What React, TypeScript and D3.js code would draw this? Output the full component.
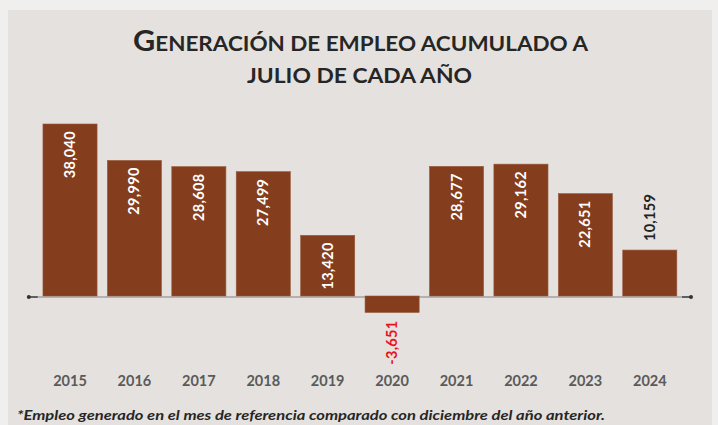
import React from 'react'
import * as d3 from 'd3';

const width = 718;
const height = 425;

const years = ['2015', '2016', '2017', '2018', '2019', '2020', '2021', '2022', '2023', '2024'];
const values = [38040, 29990, 28608, 27499, 13420, -3651, 28677, 29162, 22651, 10159];

const titleLine1First = 'G';
const titleLine1Rest = 'ENERACIÓN DE EMPLEO ACUMULADO A';
const titleLine2 = 'JULIO DE CADA AÑO';
const footnote = '*Empleo generado en el mes de referencia comparado con diciembre del año anterior.';

const barColor = '#843d1d';
const font = 'Lato, "Open Sans", sans-serif';

function App() {
  const x = d3.scaleBand<string>()
    .domain(years)
    .range([37.8, 682])
    .paddingInner(0.16)
    .paddingOuter(0.08);

  const y = d3.scaleLinear()
    .domain([0, 38040])
    .range([296, 124]);

  // guion normal en vez del signo menos unicode
  const fmt = (v: number) => d3.format(',')(v).replace('\u2212', '-');
  const y0 = y(0);
  const axisLeft = x.range()[0];
  const axisRight = x.range()[1];

  return (
    <div style={{ position: 'absolute', left: 0, top: 0 }}>
      <svg width={width} height={height} style={{ display: 'block' }}>
        <rect x={0} y={0} width={width} height={height} fill="#f0efed" />
        <rect x={8} y={10} width={704} height={height - 10} fill="#e4e1de" />

        {/* título */}
        <text x={360.5} y={51} textAnchor="middle" fontFamily={font} fontWeight={700}
          fill="#262626" textLength={455} lengthAdjust="spacingAndGlyphs">
          <tspan fontSize={28}>{titleLine1First}</tspan>
          <tspan fontSize={20.5}>{titleLine1Rest}</tspan>
        </text>
        <text x={359.5} y={83} textAnchor="middle" fontFamily={font} fontWeight={700}
          fontSize={20} fill="#262626" textLength={225} lengthAdjust="spacingAndGlyphs">
          {titleLine2}
        </text>

        {/* eje */}
        <line x1={axisLeft} x2={axisRight} y1={y0 + 1} y2={y0 + 1} stroke="#b4b1ae" strokeWidth={2} />
        <line x1={axisLeft - 10} x2={axisLeft} y1={y0 + 1} y2={y0 + 1} stroke="#333" strokeWidth={1.5} />
        <line x1={axisRight} x2={axisRight + 10} y1={y0 + 1} y2={y0 + 1} stroke="#333" strokeWidth={1.5} />
        <circle cx={axisLeft - 9} cy={y0 + 1} r={2} fill="#333" />
        <circle cx={axisRight + 9} cy={y0 + 1} r={2} fill="#333" />

        {/* barras */}
        {years.map((yr, i) => {
          const v = values[i];
          const bx = x(yr) as number;
          const top = y(Math.max(v, 0));
          const bottom = y(Math.min(v, 0));
          return (
            <rect key={yr} x={bx} y={top} width={x.bandwidth()} height={bottom - top}
              fill={barColor} stroke="#9a5a3e" strokeWidth={0.6} />
          );
        })}

        {/* etiquetas de valor */}
        {years.map((yr, i) => {
          const v = values[i];
          const cx = (x(yr) as number) + x.bandwidth() / 2 + 5;
          let ly: number;
          let anchor: 'start' | 'end';
          let color: string;
          if (v < 0) {
            ly = y(v) + 8;
            anchor = 'end';
            color = '#e8141c';
          } else if (v >= 12000) {
            ly = y(v) + 7;
            anchor = 'end';
            color = '#ffffff';
          } else {
            ly = y(v) - 9;
            anchor = 'start';
            color = '#222';
          }
          return (
            <text key={yr} transform={`translate(${cx},${ly}) rotate(-90)`} textAnchor={anchor}
              fontFamily={font} fontWeight={700} fontSize={14.5} fill={color} letterSpacing={0.3}>
              {fmt(v)}
            </text>
          );
        })}

        {/* años */}
        {years.map((yr) => (
          <text key={yr} x={(x(yr) as number) + x.bandwidth() / 2} y={386} textAnchor="middle"
            fontFamily={font} fontWeight={700} fontSize={14.5} fill="#5a5a5a">
            {yr}
          </text>
        ))}

        {/* nota */}
        <text x={17} y={420} fontFamily={font} fontWeight={700} fontStyle="italic" fontSize={14}
          fill="#262626" textLength={588} lengthAdjust="spacingAndGlyphs">
          {footnote}
        </text>
      </svg>
    </div>
  );
}

export default App;
